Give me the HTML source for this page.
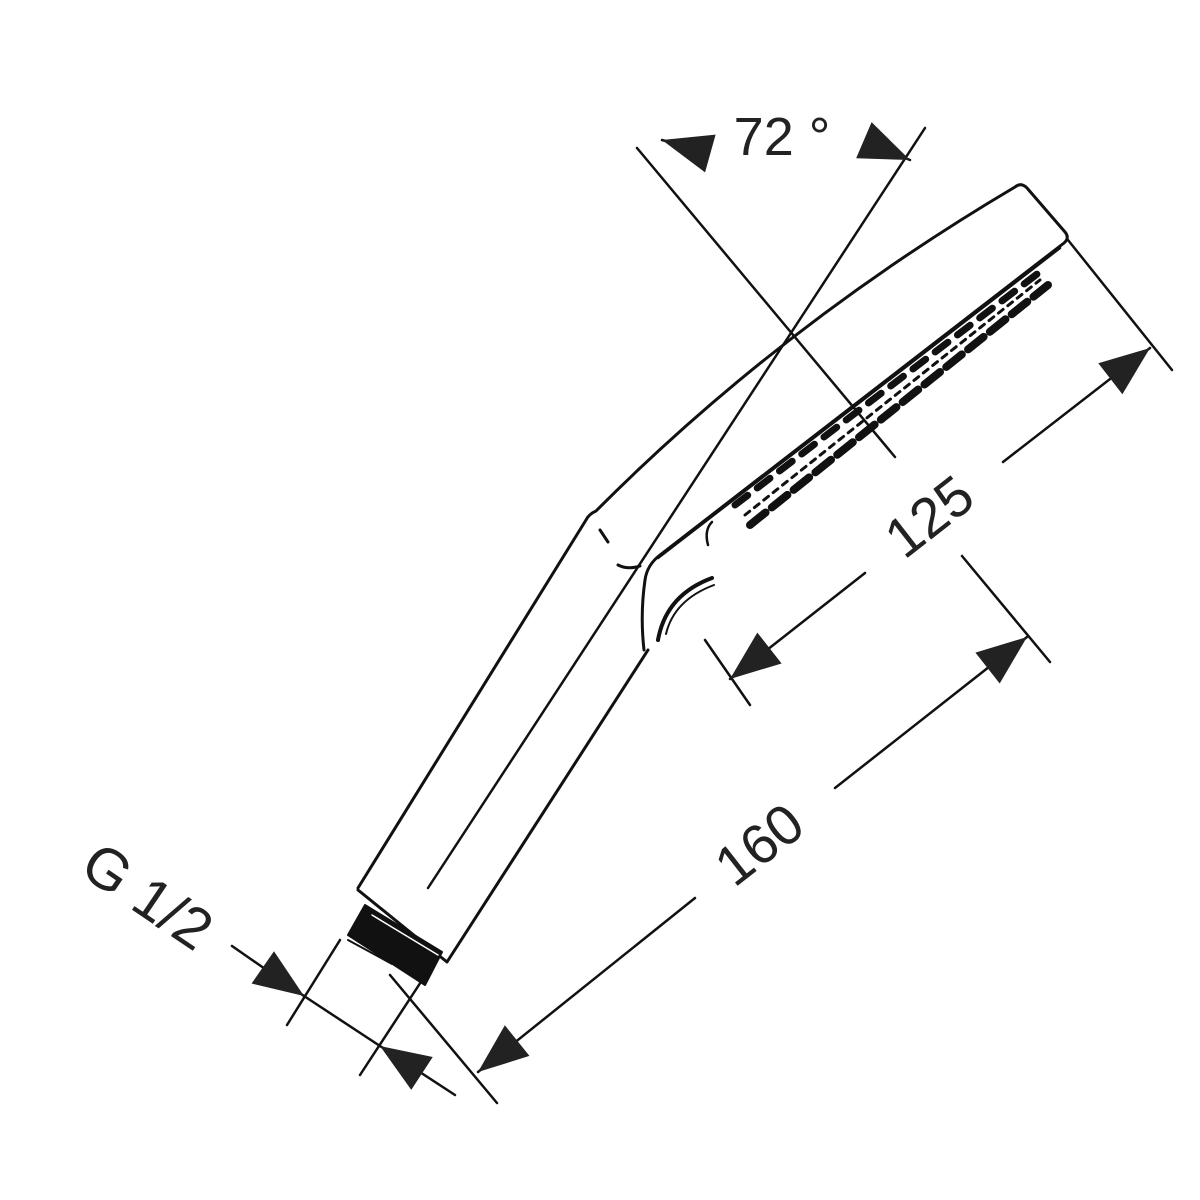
<!DOCTYPE html>
<html><head><meta charset="utf-8"><style>
html,body{margin:0;padding:0;background:#fff;}
svg{display:block}
text{font-family:"Liberation Sans",sans-serif;fill:#222;}
</style></head><body>
<svg width="1200" height="1200" viewBox="0 0 1200 1200" xmlns="http://www.w3.org/2000/svg">
<defs>
<marker id="a" markerUnits="userSpaceOnUse" markerWidth="60" markerHeight="60" viewBox="-50 -25 55 50" refX="0" refY="0" orient="auto">
<path d="M0,0 L-46,-18 L-46,18 z" fill="#222"/>
</marker>
</defs>
<g stroke="#111" stroke-width="3" fill="none" stroke-linecap="round" stroke-linejoin="round">
<!-- handle outline -->
<path d="M358,888 L586,520 Q589,514 596,511 Q780,326 1015,187 Q1021,182 1027,188 L1065,232 Q1070,238 1064,243 L660,555 Q647,565 645,580 Q640,615 644,650"/>
<path d="M648,650 L447,962 L358,890"/>
<line x1="925" y1="128" x2="428" y2="888" stroke-width="2.5"/>
<path d="M600,530 L608,542"/>
<path d="M618,565 Q628,570 640,566"/>
<!-- face bottom edge -->
<path d="M658,558 L1060,248" stroke-width="2.5"/>
<path d="M658,640 Q666,595 712,578" stroke-width="4"/>
<path d="M666,634 Q674,600 714,585" stroke-width="2"/>
<path d="M712,522 Q704,530 708,545" stroke-width="2.5"/>
<!-- nozzles -->
<line x1="735" y1="505" x2="1045" y2="268" stroke-width="7" stroke-dasharray="16 12"/>
<line x1="750" y1="525" x2="1048" y2="285" stroke-width="8" stroke-dasharray="20 8"/>
<line x1="745" y1="515" x2="1040" y2="280" stroke-width="3" stroke-dasharray="6 6"/>
<!-- thread -->
<polygon points="365,905 442,952 425,985 348,935" fill="#111" stroke-width="2"/>
<line x1="372" y1="915" x2="438" y2="955" stroke="#fff" stroke-width="1.5"/>
<line x1="348" y1="940" x2="392" y2="964" stroke-width="2"/>
<!-- 72 deg construction lines -->
<line x1="637" y1="148" x2="895" y2="457" stroke-width="2.5"/>
<line x1="705" y1="152" x2="662" y2="140" marker-end="url(#a)" stroke-width="2.5"/>
<line x1="868" y1="142" x2="910" y2="160" marker-end="url(#a)" stroke-width="2.5"/>
<!-- 125 -->
<line x1="1068" y1="240" x2="1172" y2="370" stroke-width="2.5"/>
<line x1="705" y1="640" x2="750" y2="705" stroke-width="2.5"/>
<line x1="1003" y1="462" x2="1150" y2="348" marker-end="url(#a)" stroke-width="2.5"/>
<line x1="865" y1="573" x2="730" y2="679" marker-end="url(#a)" stroke-width="2.5"/>
<!-- 160 -->
<line x1="962" y1="556" x2="1050" y2="662" stroke-width="2.5"/>
<line x1="390" y1="975" x2="497" y2="1103" stroke-width="2.5"/>
<line x1="835" y1="788" x2="1027" y2="637" marker-end="url(#a)" stroke-width="2.5"/>
<line x1="695" y1="898" x2="478" y2="1072" marker-end="url(#a)" stroke-width="2.5"/>
<!-- G 1/2 -->
<line x1="287" y1="1025" x2="340" y2="940" stroke-width="2.5"/>
<line x1="360" y1="1075" x2="432" y2="965" stroke-width="2.5"/>
<line x1="232" y1="946" x2="304" y2="996" marker-end="url(#a)" stroke-width="2.5"/>
<line x1="455" y1="1095" x2="380" y2="1046" marker-end="url(#a)" stroke-width="2.5"/>
<line x1="304" y1="996" x2="380" y2="1046" stroke-width="2.5"/>
</g>
<text x="782" y="155" font-size="54" text-anchor="middle">72 °</text>
<text transform="translate(932,520) rotate(-38)" font-size="56" text-anchor="middle" dominant-baseline="middle">125</text>
<text transform="translate(762,848) rotate(-38)" font-size="56" text-anchor="middle" dominant-baseline="middle">160</text>
<text transform="translate(145,900) rotate(34)" font-size="58" text-anchor="middle" dominant-baseline="middle">G 1/2</text>
</svg>
</body></html>
